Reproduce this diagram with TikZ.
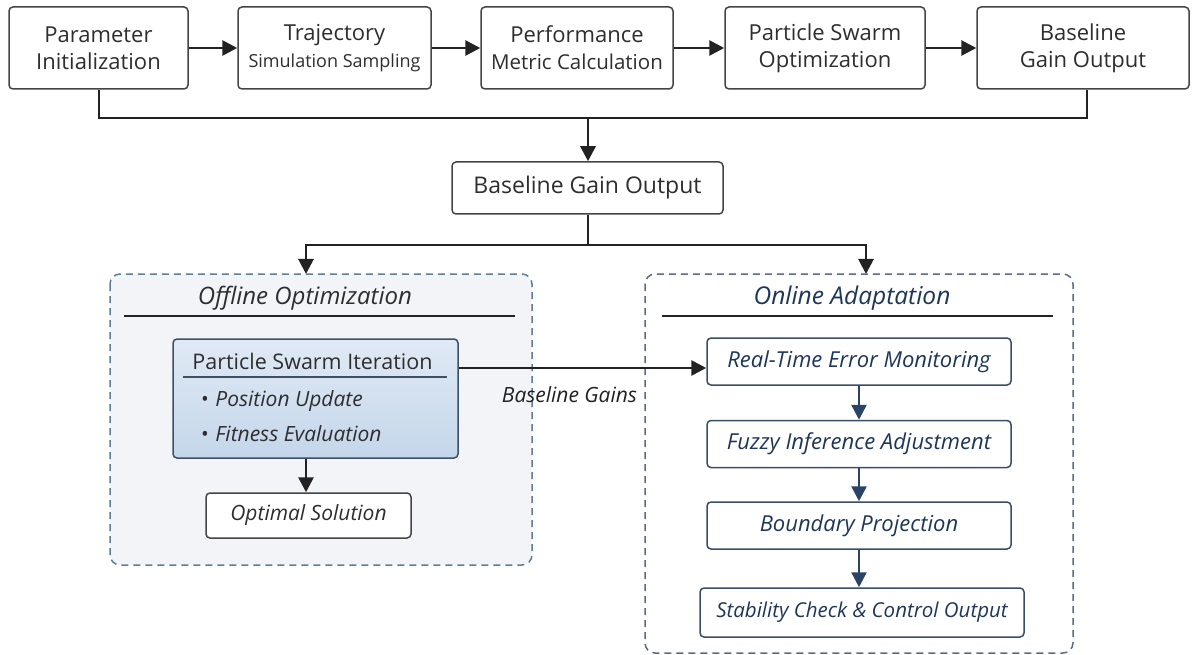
\documentclass[tikz,border=0pt]{standalone}
\usepackage{fontspec}
\setmainfont{Open Sans}
\usetikzlibrary{arrows.meta}

\definecolor{boxline}{HTML}{454545}
\definecolor{txt}{HTML}{2E2E2E}
\definecolor{lnk}{HTML}{222222}
\definecolor{navy}{HTML}{1E3658}
\definecolor{navyline}{HTML}{3A4E68}
\definecolor{navyarrow}{HTML}{2B4466}
\definecolor{dashoff}{HTML}{5E7E94}
\definecolor{dashon}{HTML}{5A6C88}
\definecolor{offfill}{HTML}{F2F4F7}
\definecolor{psitop}{HTML}{E0EAF5}
\definecolor{psibot}{HTML}{C4D6EA}
\definecolor{psiline}{HTML}{3E5066}

\tikzset{
  box/.style={draw=boxline, line width=1.5pt, rounded corners=4pt, fill=white,
    align=center, text=txt, inner sep=0pt},
  topbox/.style={box, minimum height=82pt, font=\fontsize{22}{27}\selectfont},
  navybox/.style={draw=navyline, line width=1.5pt, rounded corners=4pt, fill=white,
    text=navy, inner sep=0pt, minimum height=47pt,
    font=\fontsize{22}{26}\selectfont\itshape},
  link/.style={draw=lnk, line width=2.8pt, -{Triangle[length=15pt,width=15pt]}},
  wire/.style={draw=lnk, line width=2.8pt},
  navylink/.style={draw=navyarrow, line width=2.5pt, -{Triangle[length=15pt,width=15pt]}},
  group/.style={line width=1.5pt, dash pattern=on 7pt off 5pt, rounded corners=10pt},
  titlerule/.style={draw=lnk, line width=1.2pt},
}

\begin{document}
\begin{tikzpicture}[x=1pt,y=-1pt]
\useasboundingbox (0,0) rectangle (1197,655);

% ---- top pipeline ----
\node[topbox, minimum width=179pt] (p1) at (98.5,48) {Parameter\\Initialization};
\node[topbox, minimum width=193pt] (p2) at (334.5,48) {Trajectory\\{\fontsize{18}{20}\selectfont Simulation Sampling}};
\node[topbox, minimum width=192pt] (p3) at (577,48) {Performance\\{\fontsize{20.5}{20}\selectfont Metric Calculation}};
\node[topbox, minimum width=200pt] (p4) at (825,48) {Particle Swarm\\Optimization};
\node[topbox, minimum width=212pt] (p5) at (1083,48) {Baseline\\Gain Output};

\draw[link] (p1) -- (p2);
\draw[link] (p2) -- (p3);
\draw[link] (p3) -- (p4);
\draw[link] (p4) -- (p5);

\coordinate (merge) at (588,118);
\draw[wire] (p1.south -| 99,0) |- (merge) -| (p5.south -| 1087,0);

% ---- gain output ----
\node[box, minimum width=271pt, minimum height=52pt, font=\fontsize{23}{26}\selectfont] (gain) at (587.5,188) {Baseline Gain Output};
\draw[link] (merge) -- (gain.north -| merge);

\coordinate (split) at (588,245);
\coordinate (offin) at (306,274);
\coordinate (onin) at (866,274);
\draw[wire] (gain.south -| split) -- (split);
\draw[link] (split) -| (offin);
\draw[link] (split) -| (onin);

% ---- offline group ----
\path[group, draw=dashoff, fill=offfill] (110,274) rectangle (532,565);
\node[text=txt, font=\fontsize{24}{28}\selectfont\itshape] (offtitle) at (305,298) {Offline Optimization};
\draw[titlerule] (124,316) -- (515,316);

\node[draw=psiline, line width=1.5pt, rounded corners=4pt, top color=psitop, bottom color=psibot,
      minimum width=285pt, minimum height=119pt, inner sep=0pt] (psi) at (315.5,398.5) {};
\node[text=txt, font=\fontsize{21.5}{25}\selectfont] (psititle) at (312.5,361) {Particle Swarm Iteration};
\draw[draw=psiline, line width=1.2pt] (183,377) -- (447,377);
\node[text=txt, anchor=west, font=\fontsize{21}{25}\selectfont\itshape] (pos) at (197,401) {\textbullet\hspace{7pt}Position Update};
\node[text=txt, anchor=west, font=\fontsize{21}{25}\selectfont\itshape] (fit) at (197,434) {\textbullet\hspace{7pt}Fitness Evaluation};

\node[box, minimum width=205pt, minimum height=45pt, font=\fontsize{21}{25}\selectfont\itshape] (opt) at (308.5,515.5) {Optimal Solution};
\draw[link] (psi.south -| 306,0) -- (opt.north -| 306,0);

% ---- online group ----
\path[group, draw=dashon, fill=white] (645,274) rectangle (1073,653);
\node[text=navy, font=\fontsize{24.5}{28}\selectfont\itshape] (ontitle) at (852,298) {Online Adaptation};
\draw[titlerule] (662,316) -- (1053,316);

\node[navybox, minimum width=304pt] (rt) at (859,361.5) {Real-Time Error Monitoring};
\node[navybox, minimum width=304pt] (fz) at (859,444) {Fuzzy Inference Adjustment};
\node[navybox, minimum width=304pt] (bp) at (859,525.5) {Boundary Projection};
\node[navybox, minimum width=324pt, minimum height=49pt, font=\fontsize{20.5}{24}\selectfont\itshape] (sc) at (862,612.5) {Stability Check \& Control Output};

\draw[navylink] (rt.south -| 859,0) -- (fz.north -| 859,0);
\draw[navylink] (fz.south -| 859,0) -- (bp.north -| 859,0);
\draw[navylink] (bp.south -| 859,0) -- (sc.north -| 859,0);

% ---- hand-over of gains ----
\draw[link] (psi.east |- 0,368) -- (rt.west |- 0,368);
\node[text=lnk, font=\fontsize{21}{25}\selectfont\itshape] (gainlabel) at (569.5,395) {Baseline Gains};
\end{tikzpicture}
\end{document}
